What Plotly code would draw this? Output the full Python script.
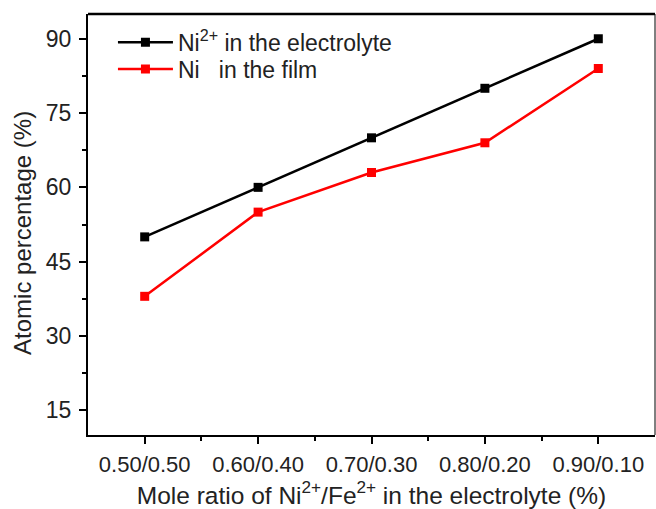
import plotly.graph_objects as go

categories = ["0.50/0.50", "0.60/0.40", "0.70/0.30", "0.80/0.20", "0.90/0.10"]
ni_electrolyte = [50, 60, 70, 80, 90]
ni_film = [38, 55, 63, 69, 84]
y_ticks = [15, 30, 45, 60, 75, 90]

xs = list(range(len(categories)))

fig = go.Figure()
fig.add_trace(go.Scatter(x=xs, y=ni_electrolyte, mode="lines+markers",
                         name="Ni<sup>2+</sup> in the electrolyte", legend="legend",
                         line=dict(color="black", width=2.5),
                         marker=dict(symbol="square", size=9, color="black")))
fig.add_trace(go.Scatter(x=xs, y=ni_film, mode="lines+markers",
                         name="Ni\u00a0\u00a0\u00a0in the film", legend="legend2",
                         line=dict(color="#ff0000", width=2.5),
                         marker=dict(symbol="square", size=9, color="#ff0000")))

leg_common = dict(xanchor="left", yanchor="middle", bgcolor="rgba(0,0,0,0)",
                  font=dict(size=23), itemwidth=55)

fig.update_layout(
    width=656, height=509,
    margin=dict(l=88, r=1, t=14, b=74),
    plot_bgcolor="white", paper_bgcolor="white",
    font=dict(family="Arial", size=21, color="#222"),
    showlegend=True,
    legend=dict(x=0.044, y=0.933, **leg_common),
    legend2=dict(x=0.044, y=0.869, **leg_common),
    xaxis=dict(range=[-0.5, 4.5], tickvals=xs, ticktext=categories,
               showgrid=False, zeroline=False,
               showline=True, linecolor="black", linewidth=2,
               ticks="outside", ticklen=7, tickwidth=2, tickcolor="black",
               ticklabelstandoff=2,
               minor=dict(tickvals=[0.5, 1.5, 2.5, 3.5], ticks="outside", ticklen=4, tickwidth=2, tickcolor="black"),
               title=dict(text="Mole ratio of Ni<sup>2+</sup>/Fe<sup>2+</sup> in the electrolyte (%)", standoff=4,
                          font=dict(size=24.5)),
               tickfont=dict(size=22)),
    yaxis=dict(range=[10, 95], tickvals=y_ticks,
               showgrid=False, zeroline=False,
               showline=True, linecolor="black", linewidth=2,
               ticks="outside", ticklen=7, tickwidth=2, tickcolor="black",
               ticklabelstandoff=3,
               minor=dict(tickvals=[22.5, 37.5, 52.5, 67.5, 82.5], ticks="outside", ticklen=4, tickwidth=2, tickcolor="black"),
               tickfont=dict(size=23)),
)
fig.add_annotation(text="Atomic percentage (%)", textangle=-90, showarrow=False,
                   xref="paper", yref="paper", x=-0.1146, y=0.48,
                   xanchor="center", yanchor="middle", font=dict(size=24))
fig.add_shape(type="line", xref="paper", yref="paper", x0=0, x1=1, y0=1, y1=1,
              line=dict(color="black", width=2.5))
fig.add_shape(type="line", xref="paper", yref="paper", x0=1, x1=1, y0=0, y1=1,
              line=dict(color="black", width=1))
fig.write_html("out.html")
